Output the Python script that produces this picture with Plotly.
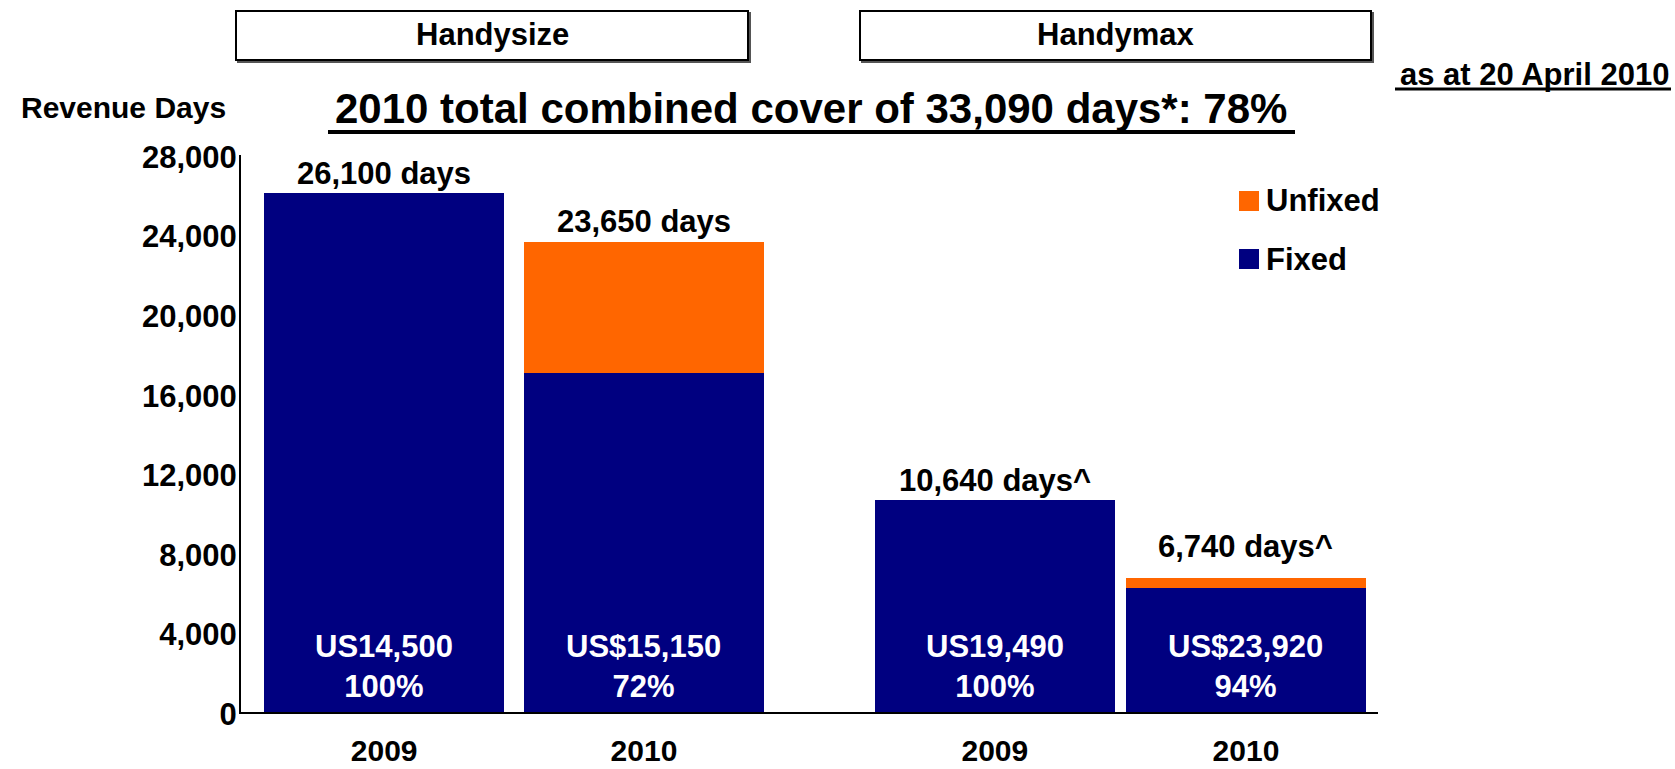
import plotly.graph_objects as go

# データ（読み取り値）
years = ["2009", "2010", "2009", "2010"]
segments = ["Handysize", "Handymax"]
fixed_days = [26100, 17030, 10640, 6250]
unfixed_days = [0, 6620, 0, 490]
total_labels = ["26,100 days", "23,650 days", "10,640 days^", "6,740 days^"]
rate_labels = ["US14,500", "US$15,150", "US19,490", "US$23,920"]
cover_labels = ["100%", "72%", "100%", "94%"]
y_ticks = [0, 4000, 8000, 12000, 16000, 20000, 24000, 28000]

# レイアウト用の定数
W, H = 1675, 769
L, R, T, B = 241, 1378, 155, 712          # プロット領域（px）
bar_x = [0.594, 1.672, 3.128, 4.170]      # 棒の位置（軸単位）
bar_w = 0.995
label_lift = [0, 1, 0, 12]                # 合計ラベルの持ち上げ（px）
FONT = "Arial, 'Liberation Sans', sans-serif"
NAVY, ORANGE = "#000080", "#FF6600"

def px(x):
    return (x - L) / (R - L)

def py(y):
    return (B - y) / (B - T)

def note(x, y, text, size, xanchor="center", color="black"):
    return dict(xref="paper", yref="paper", x=px(x), y=py(y), text=text,
                xanchor=xanchor, yanchor="middle", showarrow=False,
                font=dict(size=size, color=color, weight="bold"))

totals = [f + u for f, u in zip(fixed_days, unfixed_days)]

fig = go.Figure()
fig.add_trace(go.Bar(x=bar_x, y=fixed_days, width=bar_w, name="Fixed",
                     marker=dict(color=NAVY, line=dict(width=0))))
fig.add_trace(go.Bar(x=bar_x, y=unfixed_days, width=bar_w, name="Unfixed",
                     marker=dict(color=ORANGE, line=dict(width=0))))

ann = []
for i in range(len(bar_x)):
    # 棒の上の合計日数
    ann.append(dict(x=bar_x[i], y=totals[i], text=total_labels[i], showarrow=False,
                    yanchor="bottom", yshift=label_lift[i],
                    font=dict(size=31, color="black", weight="bold")))
    # 棒の中の料金とカバー率
    ann.append(dict(x=bar_x[i], y=0, text=rate_labels[i] + "<br>" + cover_labels[i],
                    showarrow=False, yanchor="bottom", yshift=6,
                    font=dict(size=31, color="white", weight="bold")))

# 上部の見出し
ann.append(note(811, 108, "2010 total combined cover of 33,090 days*: 78%", 42))
ann.append(note(123, 107, "Revenue Days", 30))
ann.append(note(1671, 75, "as at 20 April 2010", 31, xanchor="right"))

shapes = []
# セグメントの枠
for name, (x0, x1) in zip(segments, [(236, 748), (860, 1371)]):
    shapes.append(dict(type="rect", xref="paper", yref="paper",
                       x0=px(x0 + 2), x1=px(x1 + 2), y0=py(62), y1=py(13),
                       line=dict(color="#555555", width=2), fillcolor="#555555", layer="below"))
    shapes.append(dict(type="rect", xref="paper", yref="paper",
                       x0=px(x0), x1=px(x1), y0=py(60), y1=py(11),
                       line=dict(color="black", width=2), fillcolor="white", layer="below"))
    ann.append(note((x0 + x1) / 2, 34, name, 31))

# 下線
shapes.append(dict(type="line", xref="paper", yref="paper", x0=px(328), x1=px(1295),
                   y0=py(132), y1=py(132), line=dict(color="black", width=4)))
shapes.append(dict(type="line", xref="paper", yref="paper", x0=px(1395), x1=px(1671),
                   y0=py(89), y1=py(89), line=dict(color="black", width=3)))

# 凡例
for name, color, yc in [("Unfixed", ORANGE, 201), ("Fixed", NAVY, 259)]:
    shapes.append(dict(type="rect", xref="paper", yref="paper",
                       x0=px(1239), x1=px(1259), y0=py(yc + 10), y1=py(yc - 10),
                       line=dict(width=0), fillcolor=color))
    ann.append(note(1264, yc, name, 31, xanchor="left"))

fig.update_layout(
    width=W, height=H,
    margin=dict(l=L, r=W - R, t=T, b=H - B, pad=0, autoexpand=False),
    barmode="stack",
    showlegend=False,
    plot_bgcolor="white", paper_bgcolor="white",
    font=dict(family=FONT, color="black"),
    annotations=ann,
    shapes=shapes,
    xaxis=dict(range=[0, (R - L) / 241], tickvals=bar_x, ticktext=years,
               showline=True, linecolor="black", linewidth=2, showgrid=False,
               zeroline=False, ticks="", ticklabelstandoff=11, automargin=False,
               tickfont=dict(size=30, weight="bold")),
    yaxis=dict(range=[0, 28000], tickvals=y_ticks, tickformat=",",
               showline=True, linecolor="black", linewidth=2, showgrid=False,
               zeroline=False, ticks="", ticklabelstandoff=-4, ticklabelshift=2,
               automargin=False, tickfont=dict(size=31, weight="bold")),
)

fig.write_html("out.html", config={"displayModeBar": False},
               post_script="document.body.style.margin='0px';")
